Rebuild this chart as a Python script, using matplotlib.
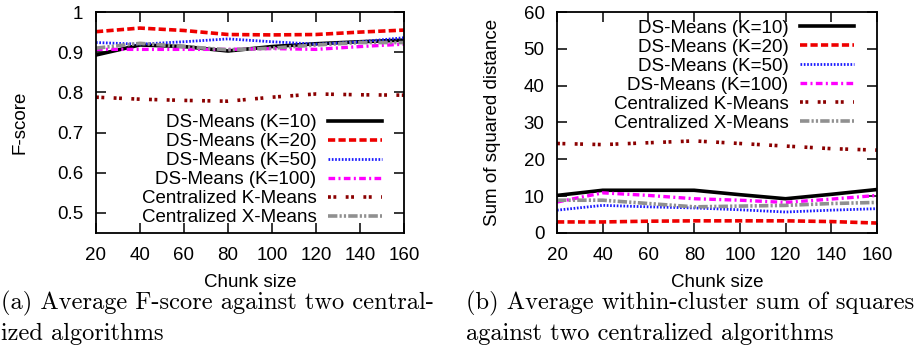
import matplotlib
matplotlib.use("Agg")
import matplotlib.pyplot as plt

chunk = [20, 40, 60, 80, 100, 120, 140, 160]

labels = ["DS-Means (K=10)", "DS-Means (K=20)", "DS-Means (K=50)",
          "DS-Means (K=100)", "Centralized K-Means", "Centralized X-Means"]

# F-score
f_k10 = [0.893, 0.918, 0.914, 0.903, 0.914, 0.921, 0.926, 0.930]
f_k20 = [0.951, 0.960, 0.954, 0.944, 0.943, 0.944, 0.950, 0.955]
f_k50 = [0.924, 0.920, 0.926, 0.933, 0.926, 0.920, 0.926, 0.936]
f_k100 = [0.907, 0.907, 0.907, 0.907, 0.909, 0.907, 0.914, 0.920]
f_kmeans = [0.788, 0.783, 0.780, 0.778, 0.788, 0.796, 0.794, 0.793]
f_xmeans = [0.910, 0.922, 0.914, 0.906, 0.910, 0.918, 0.924, 0.924]

# within-cluster sum of squares
s_k10 = [10.2, 11.6, 11.6, 11.6, 10.4, 9.3, 10.5, 11.8]
s_k20 = [3.0, 3.0, 3.2, 3.3, 3.3, 3.3, 3.1, 2.7]
s_k50 = [6.2, 7.5, 7.1, 6.8, 6.3, 5.7, 6.2, 6.6]
s_k100 = [8.4, 10.9, 10.2, 9.3, 8.9, 8.3, 9.2, 10.2]
s_kmeans = [24.3, 24.0, 24.5, 25.0, 24.3, 23.6, 22.9, 22.5]
s_xmeans = [8.9, 8.9, 8.0, 7.1, 7.3, 7.5, 8.0, 8.3]

styles = [
    dict(color="black", lw=2.6, linestyle="-"),
    dict(color="#ee0000", lw=2.6, linestyle=(0, (2.0, 0.9))),
    dict(color="#1a1aff", lw=2.0, linestyle=(0, (0.6, 0.6))),
    dict(color="#ff00ff", lw=2.4, linestyle=(0, (2.0, 1.0, 0.6, 1.0))),
    dict(color="#8b0000", lw=2.6, linestyle=(0, (0.8, 0.7, 0.8, 2.6))),
    dict(color="#909090", lw=2.6, linestyle=(0, (2.6, 0.6, 0.6, 0.6, 0.6, 0.6))),
]

plt.rcParams["font.family"] = ["Liberation Sans", "DejaVu Sans"]
fs = 13.5

fig = plt.figure(figsize=(9.21, 3.49), dpi=100)
ax1 = fig.add_axes([0.1042, 0.3324, 0.3344, 0.6332])
ax2 = fig.add_axes([0.6048, 0.3324, 0.3474, 0.6332])

legkw = dict(markerfirst=False, frameon=False, fontsize=fs, handlelength=2.9,
             handletextpad=0.6, labelspacing=0.1, borderpad=0, borderaxespad=0)

for ax, series in [(ax1, [f_k10, f_k20, f_k50, f_k100, f_kmeans, f_xmeans]),
                   (ax2, [s_k10, s_k20, s_k50, s_k100, s_kmeans, s_xmeans])]:
    for vals, st, lab in zip(series, styles, labels):
        ax.plot(chunk, vals, label=lab, **st)
    ax.set_xlim(20, 160)
    ax.set_xticks(chunk)
    ax.tick_params(direction="in", length=7, width=1.1, top=True, right=True,
                   labelsize=fs)
    ax.tick_params(axis="x", pad=10)
    ax.tick_params(axis="y", pad=9)
    for sp in ax.spines.values():
        sp.set_linewidth(1.3)
    ax.set_xlabel("Chunk size", fontsize=fs, labelpad=7)

ax1.set_ylim(0.45, 1.0)
ax1.set_yticks([0.5, 0.6, 0.7, 0.8, 0.9, 1.0])
ax1.set_yticklabels(["0.5", "0.6", "0.7", "0.8", "0.9", "1"])
ax1.set_ylabel("F-score", fontsize=fs, labelpad=21)
ax1.legend(loc="lower right", bbox_to_anchor=(0.929, 0.03), **legkw)

ax2.set_ylim(0, 60)
ax2.set_yticks([0, 10, 20, 30, 40, 50, 60])
ax2.set_ylabel("Sum of squared distance", fontsize=fs, labelpad=16)
ax2.legend(loc="upper right", bbox_to_anchor=(0.928, 0.965), **legkw)

cap = dict(fontsize=17.6, family="cmr10", va="center", ha="left")
fig.text(0.001, 1 - 303 / 349, "(a) Average F-score against two central-", **cap)
fig.text(0.001, 1 - 334 / 349, "ized algorithms", **cap)
fig.text(466 / 921, 1 - 303 / 349, "(b) Average within-cluster sum of squares", **cap)
fig.text(466 / 921, 1 - 334 / 349, "against two centralized algorithms", **cap)

fig.savefig("out.png", dpi=100)
